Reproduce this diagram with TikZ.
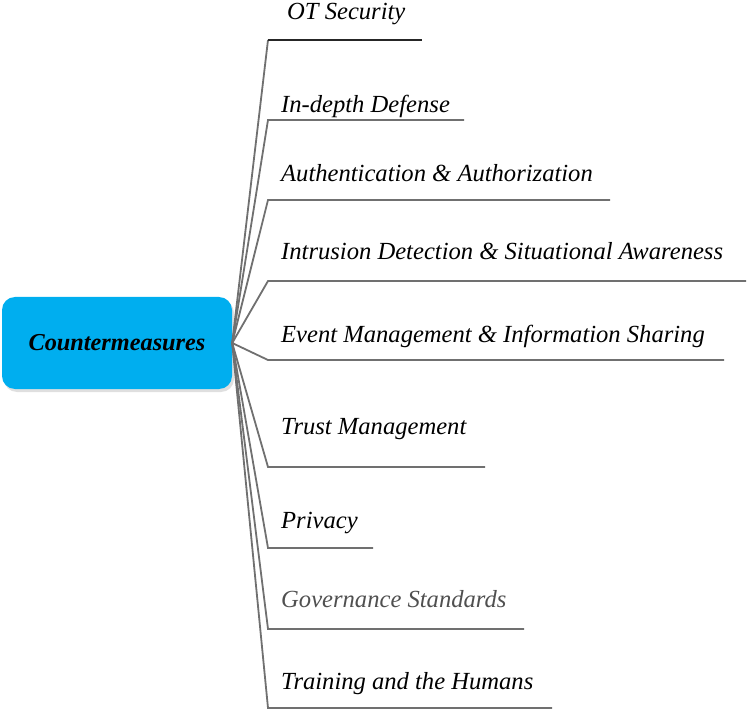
\documentclass[tikz,border=0pt]{standalone}
\usepackage{fontspec}
\setmainfont{Liberation Serif}
\usetikzlibrary{shadows}
\definecolor{rootblue}{RGB}{0,174,239}
\definecolor{linegray}{RGB}{112,112,112}
\definecolor{textgray}{RGB}{80,80,80}
\begin{document}
\begin{tikzpicture}[x=1pt,y=-1pt,
  rootbox/.style={fill=rootblue, draw=none, rounded corners=13pt, minimum width=230pt, minimum height=92pt, inner sep=0pt,
    font=\fontsize{24.3}{28}\selectfont\bfseries\itshape, drop shadow={shadow xshift=2pt, shadow yshift=-3pt, fill=black!25}},
  lab/.style={anchor=base west, inner sep=0pt, font=\fontsize{24.6}{28}\selectfont\itshape},
  branch/.style={draw=linegray, line width=1.8pt, line join=miter}
]
\useasboundingbox (0,0) rectangle (747,711);
\node[rootbox] (root) at (117,343) {Countermeasures};

\node[lab] (t1) at (287,20) {OT Security};
\node[lab] (t2) at (281,113) {In-depth Defense};
\node[lab] (t3) at (281,182) {Authentication \& Authorization};
\node[lab] (t4) at (281,260) {Intrusion Detection \& Situational Awareness};
\node[lab] (t5) at (281,342) {Event Management \& Information Sharing};
\node[lab] (t6) at (281,434) {Trust Management};
\node[lab] (t7) at (281,528) {Privacy};
\node[lab, text=textgray] (t8) at (281,607) {Governance Standards};
\node[lab] (t9) at (281,689) {Training and the Humans};

\coordinate (c1) at (268,40);  \coordinate (e1) at (422,40);
\coordinate (c2) at (268,120); \coordinate (e2) at (464,120);
\coordinate (c3) at (268,200); \coordinate (e3) at (610,200);
\coordinate (c4) at (268,281); \coordinate (e4) at (746,281);
\coordinate (c5) at (268,360); \coordinate (e5) at (724,360);
\coordinate (c6) at (268,467); \coordinate (e6) at (485,467);
\coordinate (c7) at (268,548); \coordinate (e7) at (373,548);
\coordinate (c8) at (268,629); \coordinate (e8) at (524,629);
\coordinate (c9) at (268,708); \coordinate (e9) at (552,708);

\draw[branch] (root.east) -- (c1);
\draw[line width=1.8pt, draw=black!85] (c1) -- (e1);
\foreach \i in {2,...,9} {
  \draw[branch] (root.east) -- (c\i) -- (e\i);
}
\end{tikzpicture}
\end{document}
